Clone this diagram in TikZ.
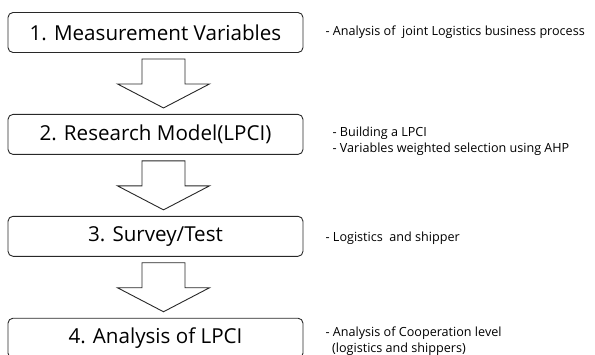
\documentclass[tikz,border=0pt]{standalone}
\usepackage{fontspec}
\setmainfont{Open Sans}
\usetikzlibrary{positioning, calc}
\definecolor{boxborder}{RGB}{40,40,40}
\tikzset{
    stage/.style={rectangle, draw=boxborder, rounded corners=5pt, line width=0.9pt,
        minimum width=295pt, minimum height=40pt, align=center, font=\fontsize{20.6}{24}\selectfont},
    note/.style={inner sep=0pt, anchor=west, align=left, font=\fontsize{12.6}{16}\selectfont},
    bigarrow/.style={draw=boxborder, line width=0.9pt, fill=white, line join=miter}
}
\newcommand{\blockarrow}[2]{%
    \path ($(#1.south)+(8,-6)$) coordinate (#1-s) ($(#2.north)+(8,6)$) coordinate (#2-t);
    \draw[bigarrow] ($(#1-s)+(-21.5,0)$) -- ($(#1-s)+(21.5,0)$) -- ($(#2-t)+(21.5,24)$)
        -- ($(#2-t)+(46,24)$) -- (#2-t) -- ($(#2-t)+(-46,24)$) -- ($(#2-t)+(-21.5,24)$) -- cycle;
}

\begin{document}
\begin{tikzpicture}[x=1pt, y=1pt, node distance=61pt and 22pt]

    \useasboundingbox (0,0) rectangle (595,-354);

    \node[stage] (measure) at (155.5,-32.5) {1. Measurement Variables};
    \node[stage, below=of measure] (model) {2. Research Model(LPCI)};
    \node[stage, below=of model] (survey) {3. Survey/Test};
    \node[stage, below=of survey] (analysis) {4. Analysis of LPCI};

    \node[note, right=of measure] (measurenote) {- Analysis of\ \ joint Logistics business process};
    \node[note, right=of model, yshift=-7pt, xshift=7pt] (modelnote) {- Building a LPCI\\- Variables weighted selection using AHP};
    \node[note, right=of survey, yshift=-1.5pt] (surveynote) {- Logistics\ \ and shipper};
    \node[note, right=of analysis, yshift=-2.5pt] (analysisnote) {- Analysis of Cooperation level\\\ \ (logistics and shippers)};

    \blockarrow{measure}{model}
    \blockarrow{model}{survey}
    \blockarrow{survey}{analysis}

\end{tikzpicture}
\end{document}
